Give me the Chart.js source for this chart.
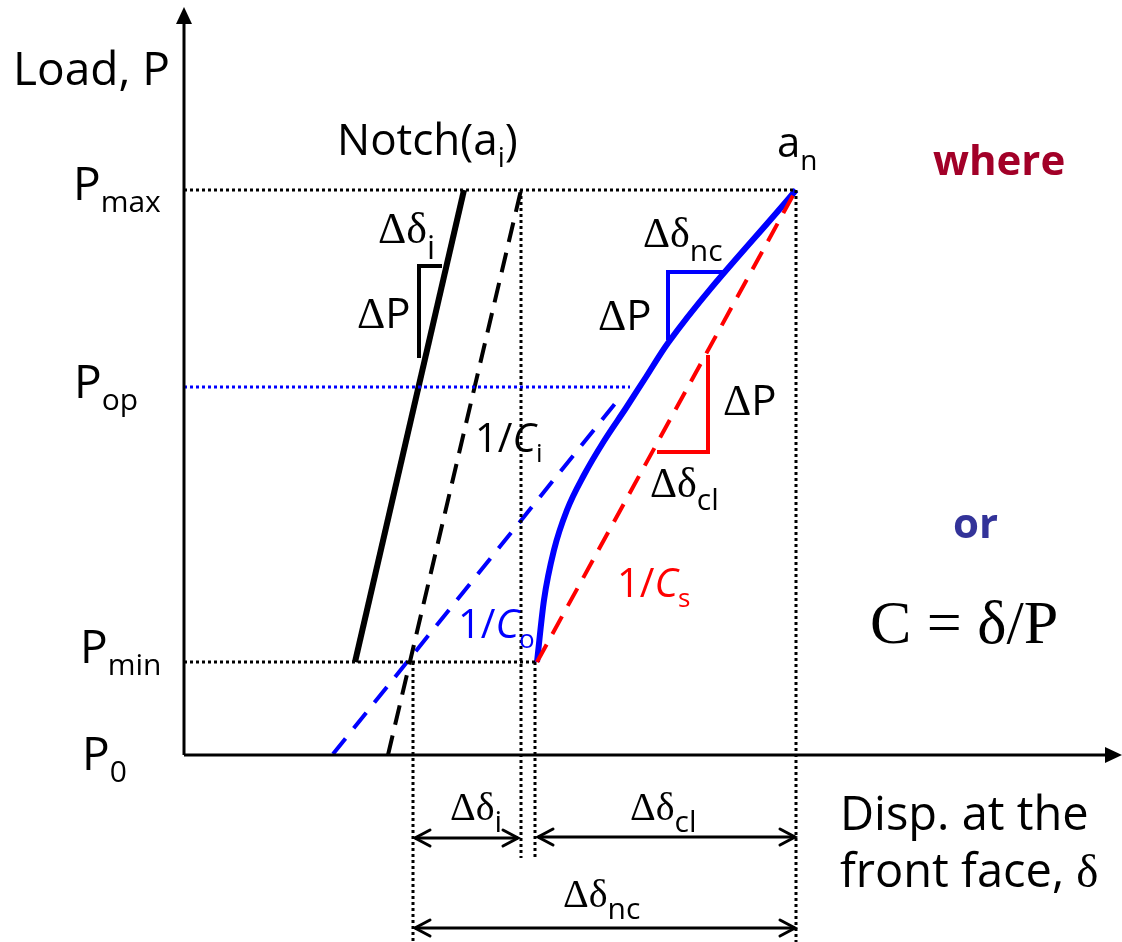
<!DOCTYPE html>
<html>
<head>
<meta charset="utf-8">
<script src="https://cdn.jsdelivr.net/npm/chart.js@4.4.0/dist/chart.umd.min.js"></script>
<style>
  html, body { margin: 0; padding: 0; background: #fff; }
  #wrap { width: 1122px; height: 942px; }
</style>
</head>
<body>
<div id="wrap"><canvas id="chart"></canvas></div>
<script>
// load levels (drawing units, 1 unit = 100 px of the original sketch)
const loadLevels = { P0: 0, Pmin: 0.93, Pop: 3.68, Pmax: 5.65 };

// displacement marks on the x axis
const dispMarks = [2.29, 3.37, 3.51, 6.12];

// lines of the sketch [x, y]
const notchSolid = [[1.71, 0.93], [2.80, 5.65]];
const notchDashed = [[2.04, 0], [3.37, 5.65]];
const openLine = [[1.49, 0.01], [4.38, 3.60]];
const secantLine = [[3.53, 0.93], [6.12, 5.65]];
const loadCurve = [
  [3.53, 0.93], [3.60, 1.55], [3.70, 2.05], [3.83, 2.45], [4.00, 2.80],
  [4.20, 3.14], [4.42, 3.47], [4.62, 3.78], [4.84, 4.12], [6.12, 5.65]
];

// slope triangles
const triNotch = [[2.35, 3.97], [2.35, 4.89], [2.58, 4.89]];
const triUpper = [[4.84, 4.15], [4.84, 4.83], [5.41, 4.83]];
const triSecant = [[4.73, 3.03], [5.24, 3.03], [5.24, 4.00]];

// dimension arrows [from, to, level]
const dimArrows = [[2.31, 3.34, -0.83], [3.54, 6.11, -0.82], [2.31, 6.11, -1.73]];

const SANS = '"Open Sans", "DejaVu Sans", sans-serif';
const SERIF = '"Liberation Serif", "DejaVu Serif", serif';

const pts = arr => arr.map(([x, y]) => ({ x, y }));

function line(data, color, width, dash) {
  return {
    data: pts(data), showLine: true, borderColor: color, borderWidth: width,
    borderDash: dash || [], pointRadius: 0, fill: false, tension: 0, clip: false
  };
}

const datasets = [
  // axes
  line([[0, 0], [0, 7.35]], '#000', 3),
  line([[0, 0], [9.25, 0]], '#000', 3),
  // guide lines
  line([[0, loadLevels.Pmax], [dispMarks[3], loadLevels.Pmax]], '#000', 3, [3, 3]),
  line([[0, loadLevels.Pop], [4.46, loadLevels.Pop]], '#0000ff', 3, [3, 3]),
  line([[0, loadLevels.Pmin], [secantLine[0][0], loadLevels.Pmin]], '#000', 3, [3, 3]),
  line([[dispMarks[0], loadLevels.Pmin], [dispMarks[0], -1.9]], '#000', 3, [3, 3]),
  line([[dispMarks[1], loadLevels.Pmax], [dispMarks[1], -1.03]], '#000', 3, [3, 3]),
  line([[dispMarks[2], loadLevels.Pmin], [dispMarks[2], -1.05]], '#000', 3, [3, 3]),
  line([[dispMarks[3], loadLevels.Pmax], [dispMarks[3], -1.9]], '#000', 3, [3, 3]),
  // dimension arrows
  ...dimArrows.map(([a, b, y]) => line([[a, y], [b, y]], '#000', 3)),
  // triangles
  line(triNotch, '#000', 4),
  line(triUpper, '#0000ff', 4),
  line(triSecant, '#ff0000', 4),
  // curves
  line(notchDashed, '#000', 4, [20, 11]),
  line(openLine, '#0000ff', 4, [20, 13]),
  line(secantLine, '#ff0000', 4, [20, 12]),
  line(notchSolid, '#000', 6),
  Object.assign(line(loadCurve, '#0000ff', 6), { cubicInterpolationMode: 'monotone' })
];

// text labels, anchored left / baseline in drawing units
const labels = [
  { x: -1.71, y: 6.70, parts: [['Load, P', `46px ${SANS}`]] },
  { x: -1.11, y: 5.55, parts: [['P', `46px ${SANS}`], ['max', `30px ${SANS}`, 12]] },
  { x: -1.10, y: 3.57, parts: [['P', `46px ${SANS}`], ['op', `30px ${SANS}`, 12]] },
  { x: -1.04, y: 0.92, parts: [['P', `46px ${SANS}`], ['min', `30px ${SANS}`, 12]] },
  { x: -1.02, y: -0.15, parts: [['P', `46px ${SANS}`], ['0', `30px ${SANS}`, 12]] },
  { x: 1.53, y: 6.00, parts: [['Notch(a', `44px ${SANS}`], ['i', `28px ${SANS}`, 12], [')', `44px ${SANS}`]] },
  { x: 5.93, y: 5.98, parts: [['a', `42px ${SANS}`], ['n', `28px ${SANS}`, 13]] },
  { x: 7.49, y: 5.80, color: '#a20028', parts: [['where', `bold 42px ${SANS}`]] },
  { x: 7.69, y: 2.17, color: '#333399', parts: [['or', `bold 42px ${SANS}`]] },
  { x: 6.86, y: 1.12, parts: [['C = δ/P', `62px ${SERIF}`]] },
  { x: 6.56, y: -0.75, parts: [['Disp. at the', `47px ${SANS}`]] },
  { x: 6.56, y: -1.32, parts: [['front face, ', `47px ${SANS}`], ['δ', `47px ${SERIF}`]] },
  { x: 2.91, y: 3.03, parts: [['1/', `40px ${SANS}`], ['C', `italic 40px ${SANS}`], ['i', `26px ${SANS}`, 10]] },
  { x: 2.74, y: 1.17, color: '#0000ff', parts: [['1/', `40px ${SANS}`], ['C', `italic 40px ${SANS}`], ['o', `26px ${SANS}`, 10]] },
  { x: 4.33, y: 1.58, color: '#ff0000', parts: [['1/', `40px ${SANS}`], ['C', `italic 40px ${SANS}`], ['s', `26px ${SANS}`, 10]] },
  { x: 1.73, y: 4.27, parts: [['Δ', `44px ${SERIF}`], ['P', `42px ${SANS}`]] },
  { x: 4.14, y: 4.25, parts: [['Δ', `44px ${SERIF}`], ['P', `42px ${SANS}`]] },
  { x: 5.39, y: 3.40, parts: [['Δ', `44px ${SERIF}`], ['P', `42px ${SANS}`]] },
  { x: 1.94, y: 5.12, parts: [['Δδ', `44px ${SERIF}`], ['i', `32px ${SANS}`, 16]] },
  { x: 4.59, y: 5.08, parts: [['Δδ', `42px ${SERIF}`], ['nc', `30px ${SANS}`, 14]] },
  { x: 4.66, y: 2.58, parts: [['Δδ', `42px ${SERIF}`], ['cl', `30px ${SANS}`, 13]] },
  { x: 2.66, y: -0.65, parts: [['Δδ', `40px ${SERIF}`], ['i', `30px ${SANS}`, 12]] },
  { x: 4.46, y: -0.65, parts: [['Δδ', `40px ${SERIF}`], ['cl', `30px ${SANS}`, 12]] },
  { x: 3.79, y: -1.52, parts: [['Δδ', `40px ${SERIF}`], ['nc', `30px ${SANS}`, 12]] }
];

// 🟢 plugin for arrow heads and text
const sketchPlugin = {
  id: 'sketch',
  beforeDraw(chart) {
    const c = chart.ctx;
    c.save();
    c.fillStyle = '#fff';
    c.fillRect(0, 0, chart.width, chart.height);
    c.restore();
  },
  afterDatasetsDraw(chart) {
    const c = chart.ctx;
    const sx = chart.scales.x, sy = chart.scales.y;
    c.save();

    // axis arrow heads (filled)
    const ox = sx.getPixelForValue(0), oy = sy.getPixelForValue(0);
    const yTop = sy.getPixelForValue(7.48), xEnd = sx.getPixelForValue(9.38);
    c.fillStyle = '#000';
    c.beginPath();
    c.moveTo(ox, yTop); c.lineTo(ox - 8, yTop + 17); c.lineTo(ox + 8, yTop + 17);
    c.closePath(); c.fill();
    c.beginPath();
    c.moveTo(xEnd, oy); c.lineTo(xEnd - 17, oy - 8); c.lineTo(xEnd - 17, oy + 8);
    c.closePath(); c.fill();

    // dimension arrow heads (open)
    c.strokeStyle = '#000';
    c.lineWidth = 3;
    c.lineCap = 'round';
    dimArrows.forEach(([a, b, y]) => {
      const pa = sx.getPixelForValue(a), pb = sx.getPixelForValue(b), py = sy.getPixelForValue(y);
      c.beginPath();
      c.moveTo(pa + 15, py - 8); c.lineTo(pa, py); c.lineTo(pa + 15, py + 8);
      c.moveTo(pb - 15, py - 8); c.lineTo(pb, py); c.lineTo(pb - 15, py + 8);
      c.stroke();
    });

    // labels
    c.textBaseline = 'alphabetic';
    c.textAlign = 'left';
    labels.forEach(l => {
      let px = sx.getPixelForValue(l.x);
      const py = sy.getPixelForValue(l.y);
      c.fillStyle = l.color || '#000';
      l.parts.forEach(([t, f, dy]) => {
        c.font = f;
        c.fillText(t, px, py + (dy || 0));
        px += c.measureText(t).width;
      });
    });
    c.restore();
  }
};

new Chart(document.getElementById('chart'), {
  type: 'scatter',
  data: { datasets },
  options: {
    responsive: true,
    maintainAspectRatio: false,
    animation: false,
    layout: { padding: 0 },
    plugins: { legend: { display: false }, tooltip: { enabled: false } },
    scales: {
      x: { type: 'linear', min: -1.84, max: 9.38, display: false },
      y: { type: 'linear', min: -1.87, max: 7.55, display: false }
    }
  },
  plugins: [sketchPlugin]
});
</script>
</body>
</html>
